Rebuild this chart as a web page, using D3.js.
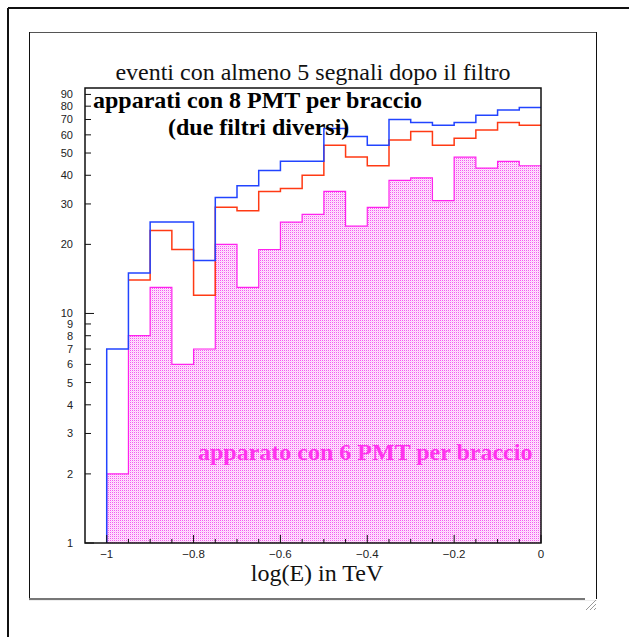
<!DOCTYPE html>
<html><head><meta charset="utf-8">
<script src="https://cdn.jsdelivr.net/npm/d3@7"></script>
<style>html,body{margin:0;padding:0;background:#fff;}svg{display:block;}</style>
</head><body>
<script>
// ---- data ----
const binLow = [-1.00,-0.95,-0.90,-0.85,-0.80,-0.75,-0.70,-0.65,-0.60,-0.55,-0.50,-0.45,-0.40,-0.35,-0.30,-0.25,-0.20,-0.15,-0.10,-0.05];
const binWidth = 0.05;
const blue8PMT   = [7,15,25,25,17,32,36,42,46,46,64,59,54,70,68,66,68,73,77,79];
const red8PMT    = [null,14,23,19,12,29,28,34,35,40,54,48,44,57,62,54,58,63,68,66];
const magenta6PMT= [2,8,13,6,7,20,13,19,25,27,34,24,29,38,39,31,48,43,46,44];
const yTickValues = [1,2,3,4,5,6,7,8,9,10,20,30,40,50,60,70,80,90];
const xTickLabels = [-1,-0.8,-0.6,-0.4,-0.2,0];
const title = "eventi con almeno 5 segnali dopo il filtro";
const xTitle = "log(E) in TeV";
const label8a = "apparati con 8 PMT per braccio";
const label8b = "(due filtri diversi)";
const label6 = "apparato con 6 PMT per braccio";

const W = 629, H = 637;
const svg = d3.select("body").append("svg").attr("width", W).attr("height", H);

// outer frame (only top and left visible)
svg.append("line").attr("x1",8).attr("y1",8).attr("x2",W).attr("y2",8).attr("stroke","#111").attr("stroke-width",2);
svg.append("line").attr("x1",8).attr("y1",8).attr("x2",8).attr("y2",H).attr("stroke","#111").attr("stroke-width",2);

// inner box
svg.append("line").attr("x1",29).attr("y1",32.5).attr("x2",597).attr("y2",32.5).attr("stroke","#555");
svg.append("line").attr("x1",29.5).attr("y1",32).attr("x2",29.5).attr("y2",599).attr("stroke","#111");
svg.append("line").attr("x1",596.5).attr("y1",32).attr("x2",596.5).attr("y2",599).attr("stroke","#111");
svg.append("line").attr("x1",29).attr("y1",599).attr("x2",585).attr("y2",599).attr("stroke","#777").attr("stroke-width",2);
svg.append("line").attr("x1",29).attr("y1",600.5).attr("x2",597).attr("y2",600.5).attr("stroke","#eee");
// resize grip
const grip = svg.append("g").attr("stroke","#999").attr("stroke-width",1);
[[586,610,596,600],[590,610,596,604],[594,610,596,608]].forEach(d=>{
  grip.append("line").attr("x1",d[0]).attr("y1",d[1]).attr("x2",d[2]).attr("y2",d[3]);
});

// ---- scales ----
const plot = {left:85, right:541, top:88, bottom:543};
const x = d3.scaleLinear().domain([-1.05, 0]).range([plot.left, plot.right]);
const y = d3.scaleLog().domain([1, 96]).range([plot.bottom, plot.top]);

// pattern for magenta fill
const defs = svg.append("defs");
const pat = defs.append("pattern").attr("id","dots").attr("width",2).attr("height",2).attr("patternUnits","userSpaceOnUse");
pat.append("rect").attr("width",2).attr("height",2).attr("fill","#ffe6fe");
pat.append("rect").attr("x",0).attr("y",0).attr("width",1).attr("height",1).attr("fill","#f25af0");
pat.append("rect").attr("x",1).attr("y",1).attr("width",1).attr("height",1).attr("fill","#fdccfb");

function stepPath(vals){
  let p = "";
  let started = false;
  vals.forEach((v,i)=>{
    if(v==null) return;
    const x0 = x(binLow[i]), x1 = x(binLow[i]+binWidth), yy = y(v);
    if(!started){ p += `M${x0},${i===0?y(1):yy}`; started = true; }
    p += `L${x0},${yy}L${x1},${yy}`;
  });
  return p;
}

// magenta filled histogram
let fp = `M${x(binLow[0])},${y(1)}`;
magenta6PMT.forEach((v,i)=>{ fp += `L${x(binLow[i])},${y(v)}L${x(binLow[i]+binWidth)},${y(v)}`; });
fp += `L${x(binLow[binLow.length-1]+binWidth)},${y(1)}Z`;
svg.append("path").attr("d",fp).attr("fill","url(#dots)").attr("stroke","none");
svg.append("path").attr("d",stepPath(magenta6PMT)).attr("fill","none").attr("stroke","#ff22ee").attr("stroke-width",1.2);

svg.append("path").attr("d",stepPath(red8PMT)).attr("fill","none").attr("stroke","#ff3a14").attr("stroke-width",1.5);
svg.append("path").attr("d",stepPath(blue8PMT)).attr("fill","none").attr("stroke","#2244ff").attr("stroke-width",1.5);

// frame
svg.append("rect").attr("x",plot.left).attr("y",plot.top).attr("width",plot.right-plot.left).attr("height",plot.bottom-plot.top)
  .attr("fill","none").attr("stroke","#111").attr("stroke-width",1.5);

// y axis ticks
const gy = svg.append("g").attr("transform",`translate(${plot.left},0)`);
yTickValues.forEach(v=>{
  const len = (v===1||v===10) ? 9 : 6;
  gy.append("line").attr("x1",0).attr("x2",len).attr("y1",y(v)).attr("y2",y(v)).attr("stroke","#111").attr("stroke-width",1);
  gy.append("text").attr("x",-12).attr("y",y(v)).attr("dy","0.36em").attr("text-anchor","end")
    .attr("font-family","Liberation Sans, Arial, sans-serif").attr("font-size",11).attr("fill","#222").text(v);
});

// x axis ticks
const gx = svg.append("g");
const xMinor = binLow.concat([0]);
xMinor.forEach(v=>{
  const major = xTickLabels.some(t=>Math.abs(t-v)<1e-9);
  gx.append("line").attr("x1",x(v)).attr("x2",x(v)).attr("y1",plot.bottom).attr("y2",plot.bottom-(major?8:4)).attr("stroke","#111");
});
xTickLabels.forEach(v=>{
  gx.append("text").attr("x",x(v)).attr("y",558).attr("text-anchor","middle")
    .attr("font-family","Liberation Sans, Arial, sans-serif").attr("font-size",11.5).attr("fill","#222")
    .text(v===0?"0":String(v).replace("-","\u2212"));
});

// titles
const serif = "Liberation Serif, Times New Roman, serif";
svg.append("text").attr("x",313).attr("y",80).attr("text-anchor","middle").attr("font-family",serif).attr("font-size",24).attr("fill","#111").text(title);
svg.append("text").attr("x",317).attr("y",581).attr("text-anchor","middle").attr("font-family",serif).attr("font-size",24).attr("fill","#111").text(xTitle);
svg.append("text").attr("x",93).attr("y",108).attr("font-family",serif).attr("font-weight","bold").attr("font-size",24).attr("fill","#000").text(label8a);
svg.append("text").attr("x",168).attr("y",135).attr("font-family",serif).attr("font-weight","bold").attr("font-size",24).attr("fill","#000").text(label8b);
svg.append("text").attr("x",198).attr("y",460).attr("font-family",serif).attr("font-weight","bold").attr("font-size",24).attr("fill","#ff33ee").text(label6);
</script>
</body></html>
